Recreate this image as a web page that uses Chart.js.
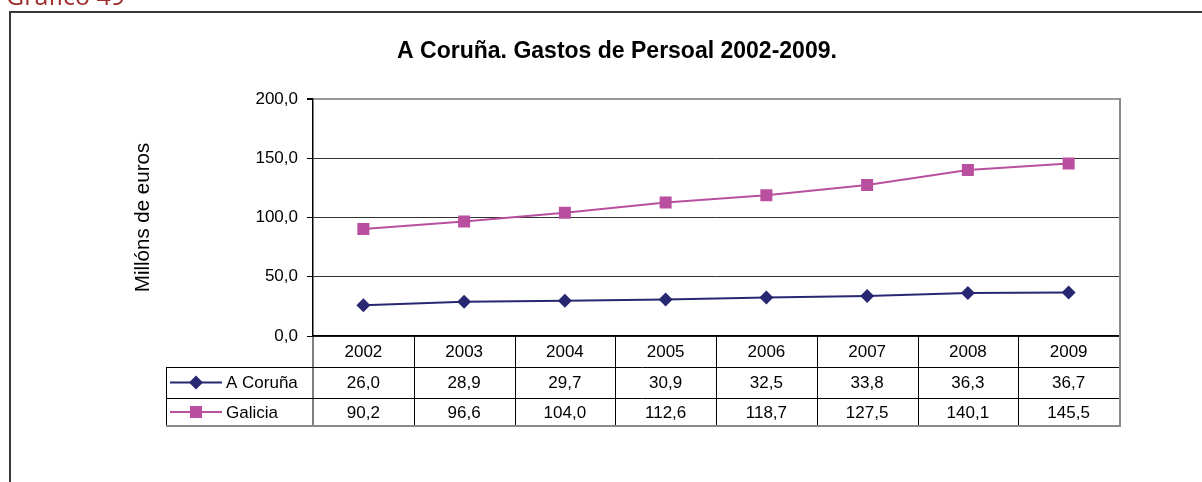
<!DOCTYPE html>
<html>
<head>
<meta charset="utf-8">
<script src="https://cdn.jsdelivr.net/npm/chart.js@4/dist/chart.umd.min.js"></script>
<style>
  html, body { margin: 0; padding: 0; background: #fff; }
  #wrap { width: 1202px; height: 482px; position: relative; }
</style>
</head>
<body>
<div id="wrap"><canvas id="gastosChart" width="1202" height="482"></canvas></div>
<script>
// Datos do gráfico
const years = ['2002', '2003', '2004', '2005', '2006', '2007', '2008', '2009'];
const aCoruna = [26.0, 28.9, 29.7, 30.9, 32.5, 33.8, 36.3, 36.7];
const galicia = [90.2, 96.6, 104.0, 112.6, 118.7, 127.5, 140.1, 145.5];
const seriesNames = ['A Coruña', 'Galicia'];

const FONT = 'Arial, "Liberation Sans", sans-serif';
const NAVY = '#282872';
const MAGENTA = '#b9509f';

const fmt = v => v.toFixed(1).replace('.', ',');

// Marco da páxina e táboa de datos baixo o eixo
const tablePlugin = {
    id: 'dataTable',
    beforeDraw(chart) {
        const ctx = chart.ctx;
        ctx.save();
        ctx.fillStyle = '#9e2f2c';
        ctx.font = '25px "Open Sans", ' + FONT;
        ctx.textBaseline = 'alphabetic';
        ctx.fillText('Gráfico 49', 6, 5);
        ctx.strokeStyle = '#3a3a3a';
        ctx.lineWidth = 2;
        ctx.beginPath();
        ctx.moveTo(10, 482);
        ctx.lineTo(10, 12);
        ctx.lineTo(1202, 12);
        ctx.stroke();
        ctx.restore();
    },
    afterDraw(chart) {
        const ctx = chart.ctx;
        const x = chart.scales.x;
        const area = chart.chartArea;
        const colW = (area.right - area.left) / years.length;
        const top = area.bottom;
        const rows = [top, top + 31, top + 62, top + 90];
        const tableLeft = 166;

        ctx.save();
        ctx.strokeStyle = '#000';
        ctx.lineWidth = 1;
        ctx.beginPath();
        for (let i = 1; i < years.length; i++) {
            const cx = Math.round(area.left + i * colW) + 0.5;
            ctx.moveTo(cx, rows[0]);
            ctx.lineTo(cx, rows[3]);
        }
        ctx.moveTo(area.left, rows[0]);
        ctx.lineTo(area.left, rows[3]);
        [rows[1], rows[2]].forEach(ry => {
            ctx.moveTo(tableLeft, ry + 0.5);
            ctx.lineTo(area.right, ry + 0.5);
        });
        ctx.moveTo(tableLeft + 0.5, rows[1]);
        ctx.lineTo(tableLeft + 0.5, rows[3]);
        ctx.stroke();

        // borde gris (dereita e abaixo)
        ctx.strokeStyle = '#8a8a8a';
        ctx.lineWidth = 2;
        ctx.beginPath();
        ctx.moveTo(tableLeft, rows[3]);
        ctx.lineTo(area.right + 1, rows[3]);
        ctx.moveTo(area.right + 1, area.top - 1);
        ctx.lineTo(area.right + 1, rows[3] + 1);
        ctx.stroke();

        // textos
        ctx.fillStyle = '#000';
        ctx.font = '17px ' + FONT;
        ctx.textAlign = 'center';
        ctx.textBaseline = 'middle';
        const mid = (a, b) => (a + b) / 2 + 1;
        years.forEach((yr, i) => {
            const cx = x.getPixelForValue(i);
            ctx.fillText(yr, cx, mid(rows[0], rows[1]));
            ctx.fillText(fmt(aCoruna[i]), cx, mid(rows[1], rows[2]));
            ctx.fillText(fmt(galicia[i]), cx, mid(rows[2], rows[3]));
        });

        // lenda dentro da táboa
        chart.data.datasets.forEach((ds, k) => {
            const ry = mid(rows[k + 1], rows[k + 2]) - 1;
            ctx.strokeStyle = ds.borderColor;
            ctx.lineWidth = 2;
            ctx.beginPath();
            ctx.moveTo(170, ry);
            ctx.lineTo(222, ry);
            ctx.stroke();
            ctx.fillStyle = ds.backgroundColor;
            Chart.helpers.drawPoint(ctx, {
                pointStyle: ds.pointStyle,
                radius: ds.pointRadius,
                rotation: 0,
                borderWidth: 0
            }, 196, ry);
            ctx.fillStyle = '#000';
            ctx.textAlign = 'left';
            ctx.fillText(ds.label, 226, ry + 1);
        });
        ctx.restore();
    }
};

const ctx = document.getElementById('gastosChart').getContext('2d');
new Chart(ctx, {
    type: 'line',
    data: {
        labels: years,
        datasets: [{
            label: seriesNames[0],
            data: aCoruna,
            borderColor: NAVY,
            backgroundColor: NAVY,
            borderWidth: 2,
            pointStyle: 'rectRot',
            pointRadius: 7,
            pointBorderWidth: 0,
            tension: 0
        }, {
            label: seriesNames[1],
            data: galicia,
            borderColor: MAGENTA,
            backgroundColor: MAGENTA,
            borderWidth: 2,
            pointStyle: 'rect',
            pointRadius: 8.5,
            pointBorderWidth: 0,
            tension: 0
        }]
    },
    options: {
        responsive: false,
        animation: false,
        layout: { padding: { left: 115, right: 83, top: 0, bottom: 56 } },
        plugins: {
            legend: { display: false },
            tooltip: { enabled: false },
            title: {
                display: true,
                text: 'A Coruña. Gastos de Persoal 2002-2009.',
                color: '#000',
                font: { family: FONT, size: 23, weight: 'bold', lineHeight: 1.2 },
                padding: { top: 38.2, bottom: 33.2 }
            }
        },
        scales: {
            x: {
                offset: true,
                grid: { display: false },
                ticks: { display: false },
                border: { display: true, color: '#000', width: 1.5 },
                afterFit(scale) { scale.height = 90; }
            },
            y: {
                min: 0,
                max: 200,
                ticks: {
                    stepSize: 50,
                    padding: 9,
                    color: '#000',
                    font: { family: FONT, size: 17 },
                    callback: v => fmt(v)
                },
                grid: {
                    color: c => c.tick && c.tick.value === 200 ? '#999' : '#333',
                    lineWidth: c => c.tick && c.tick.value === 200 ? 2 : 1,
                    tickColor: '#000',
                    tickLength: 6
                },
                border: { display: true, color: '#000', width: 1.5 },
                title: {
                    display: true,
                    text: 'Millóns de euros',
                    color: '#000',
                    font: { family: FONT, size: 20.5 },
                    padding: { top: 16, bottom: 0 }
                },
                afterFit(scale) { scale.width = 198; }
            }
        }
    },
    plugins: [tablePlugin]
});
</script>
</body>
</html>
